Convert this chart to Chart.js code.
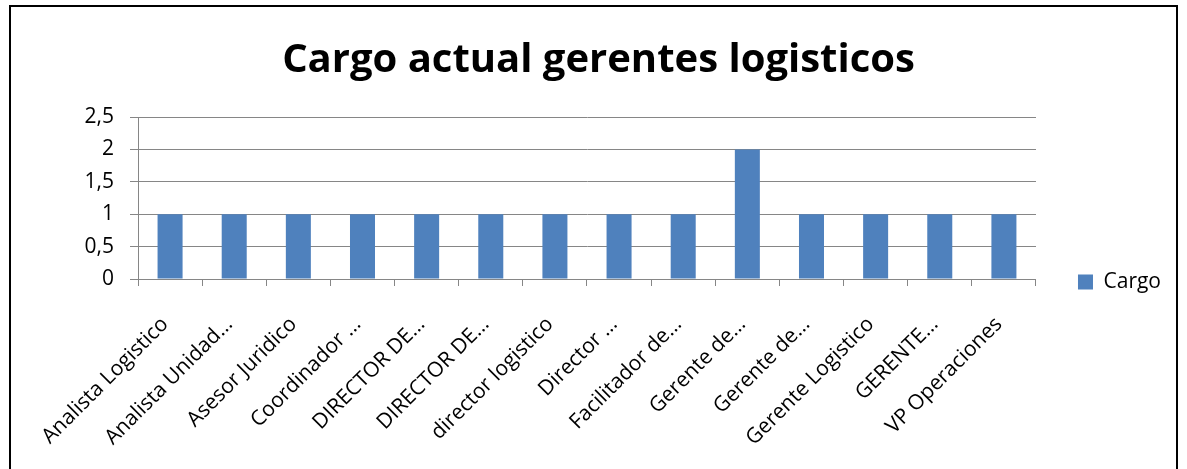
<!DOCTYPE html>
<html>
<head>
<meta charset="utf-8">
<script src="https://cdn.jsdelivr.net/npm/chart.js@4"></script>
<style>
  html, body { margin: 0; padding: 0; background: #fff; overflow: hidden; }
  #wrap { position: relative; width: 1187px; height: 469px; }
  #frame {
    position: absolute; left: 9px; top: 5px; width: 1169px; height: 480px;
    border: 2px solid #000; box-sizing: border-box; pointer-events: none;
  }
</style>
</head>
<body>
<div id="wrap">
  <canvas id="cargoChart" width="1187" height="469"></canvas>
  <div id="frame"></div>
</div>
<script>
// ===== DATA =====
const cargos = [
    "Analista Logistico",
    "Analista Unidad\u2026",
    "Asesor Juridico",
    "Coordinador \u2026",
    "DIRECTOR DE\u2026",
    "DIRECTOR DE\u2026",
    "director logistico",
    "Director \u2026",
    "Facilitador de\u2026",
    "Gerente de\u2026",
    "Gerente de\u2026",
    "Gerente Logistico",
    "GERENTE\u2026",
    "VP Operaciones"
];
const cargoValues = [1, 1, 1, 1, 1, 1, 1, 1, 1, 2, 1, 1, 1, 1];
const yTicks = [0, 0.5, 1, 1.5, 2, 2.5];

const FONT = "'Open Sans', 'Liberation Sans', sans-serif";

// move the legend down next to the x axis, like the Excel original
const legendNearAxis = {
    id: "legendNearAxis",
    afterLayout(chart) {
        const lg = chart.legend;
        const dy = chart.chartArea.bottom + 3 - (lg.top + lg.bottom) / 2;
        lg.top += dy;
        lg.bottom += dy;
        lg.left -= 16;
        lg.right -= 16;
    }
};

// ===== CHART =====
const ctx = document.getElementById("cargoChart").getContext("2d");

const cargoChart = new Chart(ctx, {
    type: "bar",
    data: {
        labels: cargos,
        datasets: [{
            label: "Cargo",
            data: cargoValues,
            backgroundColor: "#4F81BD",
            borderWidth: 0,
            categoryPercentage: 1,
            barPercentage: 0.39
        }]
    },
    plugins: [legendNearAxis],
    options: {
        responsive: false,
        animation: false,
        layout: { padding: { left: 10, right: 0, top: 0, bottom: 0 } },
        plugins: {
            title: {
                display: true,
                text: "Cargo actual gerentes logisticos",
                color: "#000",
                font: { family: FONT, size: 40, weight: "bold" },
                padding: { top: 37, bottom: 32 }
            },
            legend: {
                position: "right",
                align: "center",
                labels: {
                    color: "#000",
                    font: { family: FONT, size: 21 },
                    boxWidth: 15,
                    boxHeight: 15,
                    padding: 58
                }
            },
            tooltip: { enabled: false }
        },
        scales: {
            x: {
                grid: {
                    display: true,
                    drawOnChartArea: false,
                    drawTicks: true,
                    tickLength: 7,
                    color: "#868686",
                    offset: true
                },
                border: { color: "#868686", width: 1 },
                ticks: {
                    color: "#000",
                    font: { family: FONT, size: 21 },
                    maxRotation: 45,
                    minRotation: 45,
                    autoSkip: false,
                    padding: 26,
                    labelOffset: -5
                },
                afterFit: (scale) => { scale.height = 190; }
            },
            y: {
                min: 0,
                max: 2.5,
                afterBuildTicks: (scale) => {
                    scale.ticks = yTicks.map(v => ({ value: v }));
                },
                grid: {
                    color: "#868686",
                    tickLength: 8
                },
                border: { color: "#868686", width: 1 },
                ticks: {
                    color: "#000",
                    font: { family: FONT, size: 21 },
                    padding: 16,
                    callback: (v) => String(v).replace(".", ",")
                },
                afterFit: (scale) => { scale.width = 128; }
            }
        }
    }
});
</script>
</body>
</html>
